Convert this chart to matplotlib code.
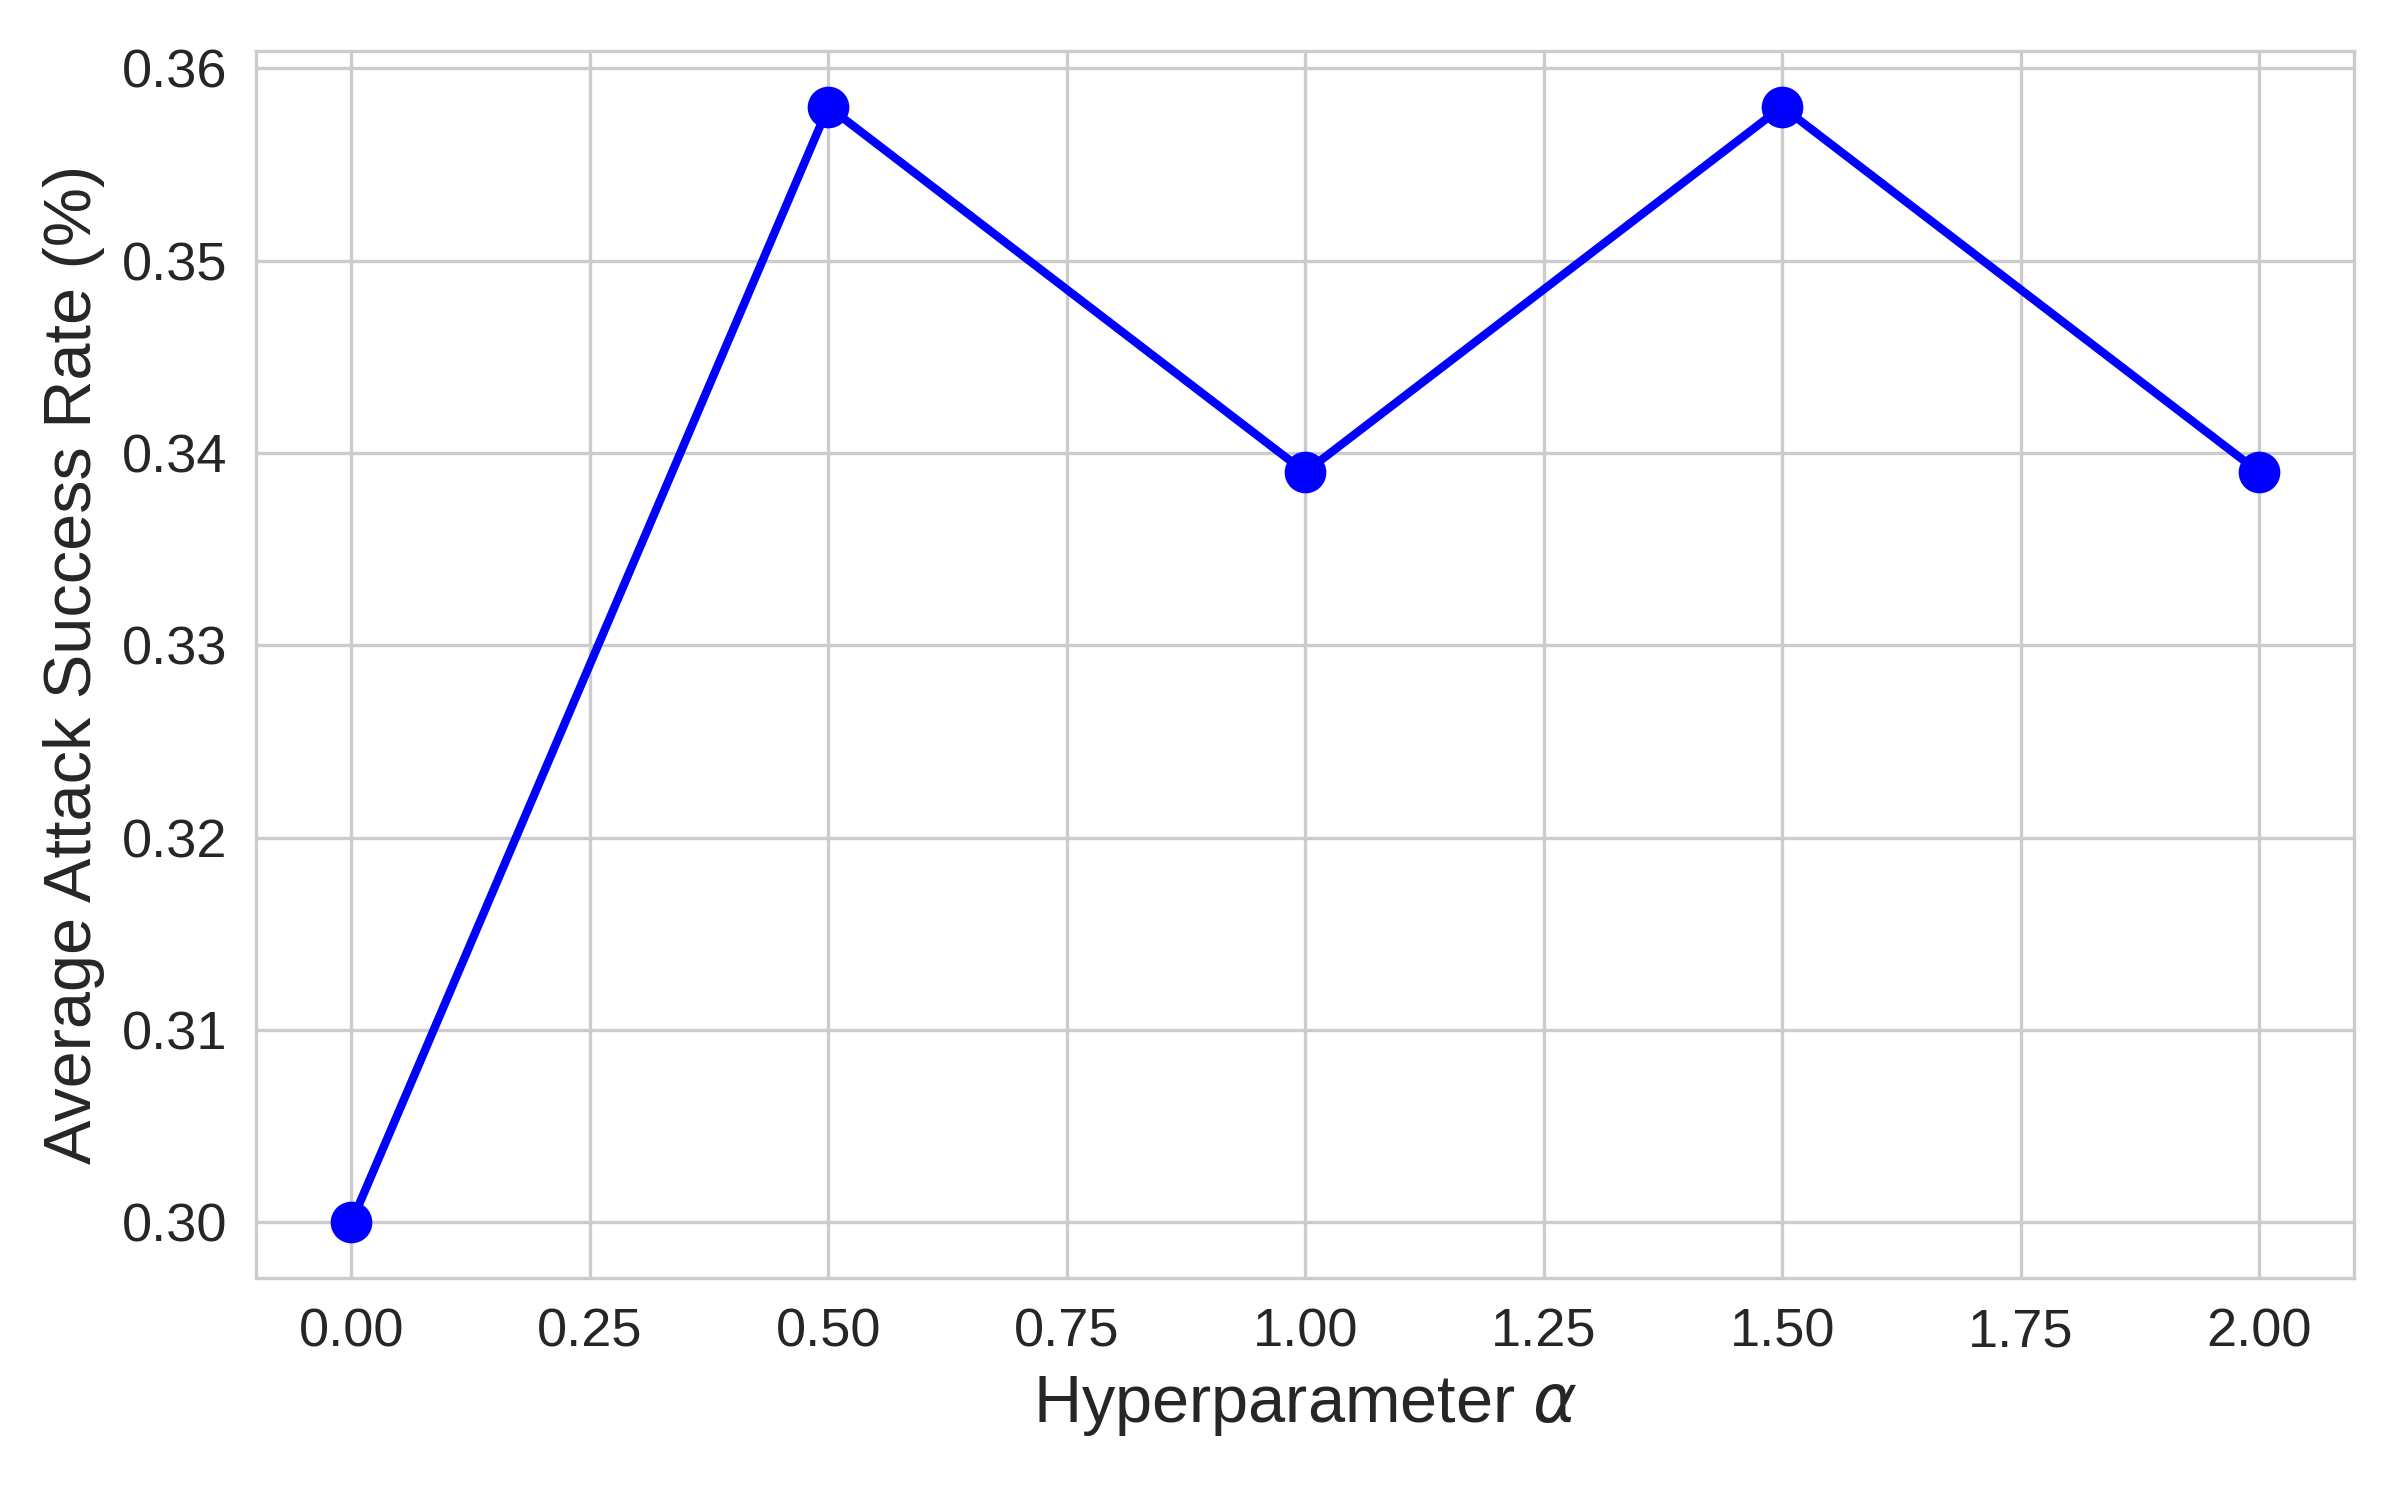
import matplotlib
matplotlib.use('Agg')
import matplotlib.pyplot as plt
import seaborn as sns

alpha_values = [0.0, 0.5, 1.0, 1.5, 2.0]
attack_success = [0.300, 0.358, 0.339, 0.358, 0.339]

sns.set_style('whitegrid')
plt.rcParams['font.family'] = ['Liberation Sans', 'DejaVu Sans']

fig = plt.figure(figsize=(8, 5), dpi=300)
ax = fig.add_axes([0.1067, 0.148, 0.8743, 0.818])

ax.plot(alpha_values, attack_success, marker='o', color='blue', linewidth=2, markersize=9)

ax.set_xticks([0.0, 0.25, 0.5, 0.75, 1.0, 1.25, 1.5, 1.75, 2.0])
ax.set_xticklabels(['0.00', '0.25', '0.50', '0.75', '1.00', '1.25', '1.50', '1.75', '2.00'])
ax.set_yticks([0.30, 0.31, 0.32, 0.33, 0.34, 0.35, 0.36])
ax.set_yticklabels(['0.30', '0.31', '0.32', '0.33', '0.34', '0.35', '0.36'])
ax.tick_params(labelsize=13, colors='.15')
ax.set_xlabel(r'Hyperparameter $\alpha$', fontsize=16, color='.15')
ax.set_ylabel('Average Attack Success Rate (%)', fontsize=16, color='.15')

plt.savefig('out.png', dpi=300)
plt.close()
